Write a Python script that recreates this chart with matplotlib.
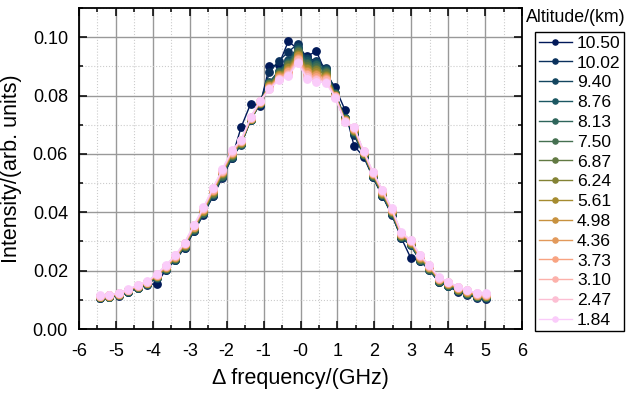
import matplotlib
matplotlib.use("Agg")
import matplotlib.pyplot as plt
from matplotlib.colors import LinearSegmentedColormap
from matplotlib.ticker import MultipleLocator
import numpy as np

plt.rcParams['font.family'] = ['Liberation Sans', 'DejaVu Sans']

# detuning grid (GHz)
freq = [-5.43, -5.18, -4.92, -4.67, -4.41, -4.16, -3.90, -3.65, -3.39, -3.14,
        -2.88, -2.63, -2.37, -2.12, -1.86, -1.61, -1.35, -1.10, -0.84, -0.59,
        -0.33, -0.08, 0.18, 0.43, 0.69, 0.94, 1.20, 1.45, 1.71, 1.96,
        2.22, 2.47, 2.73, 2.98, 3.24, 3.49, 3.75, 4.00, 4.26, 4.51,
        4.77, 5.02]

altitudes = ['10.50', '10.02', '9.40', '8.76', '8.13', '7.50', '6.87', '6.24',
             '5.61', '4.98', '4.36', '3.73', '3.10', '2.47', '1.84']

alt_1050 = [0.0106, 0.0108, 0.0114, 0.0127, 0.0140, 0.0152, 0.0155, 0.0202, 0.0236, 0.0278,
            0.0335, 0.0392, 0.0455, 0.0518, 0.0585, 0.0691, 0.0772, 0.0765, 0.0901, 0.0905,
            0.0986, 0.0960, 0.0935, 0.0952, 0.0875, 0.0828, 0.0752, 0.0628, 0.0590, 0.0520,
            0.0455, 0.0392, 0.0312, 0.0245, 0.0232, 0.0205, 0.0160, 0.0146, 0.0128, 0.0118,
            0.0107, 0.0104]
alt_1002 = [0.0107, 0.0109, 0.0115, 0.0128, 0.0141, 0.0153, 0.0175, 0.0203, 0.0237, 0.0279,
            0.0337, 0.0394, 0.0457, 0.0520, 0.0587, 0.0631, 0.0716, 0.0771, 0.0880, 0.0918,
            0.0950, 0.0976, 0.0929, 0.0919, 0.0896, 0.0809, 0.0724, 0.0665, 0.0596, 0.0521,
            0.0457, 0.0394, 0.0313, 0.0287, 0.0234, 0.0201, 0.0161, 0.0147, 0.0129, 0.0119,
            0.0108, 0.0105]
alt_940 = [0.0107, 0.0109, 0.0115, 0.0128, 0.0141, 0.0154, 0.0176, 0.0204, 0.0238, 0.0281,
           0.0338, 0.0396, 0.0459, 0.0522, 0.0589, 0.0633, 0.0716, 0.0772, 0.0846, 0.0885,
           0.0921, 0.0966, 0.0924, 0.0914, 0.0892, 0.0808, 0.0723, 0.0673, 0.0597, 0.0523,
           0.0458, 0.0395, 0.0315, 0.0288, 0.0235, 0.0203, 0.0162, 0.0148, 0.0130, 0.0120,
           0.0109, 0.0107]
alt_876 = [0.0108, 0.0110, 0.0116, 0.0129, 0.0142, 0.0154, 0.0177, 0.0205, 0.0240, 0.0282,
           0.0340, 0.0397, 0.0461, 0.0524, 0.0591, 0.0634, 0.0717, 0.0773, 0.0844, 0.0882,
           0.0916, 0.0961, 0.0918, 0.0908, 0.0888, 0.0806, 0.0722, 0.0675, 0.0598, 0.0524,
           0.0460, 0.0397, 0.0316, 0.0290, 0.0237, 0.0204, 0.0164, 0.0149, 0.0132, 0.0121,
           0.0110, 0.0108]
alt_813 = [0.0109, 0.0111, 0.0117, 0.0130, 0.0143, 0.0155, 0.0178, 0.0207, 0.0241, 0.0283,
           0.0342, 0.0399, 0.0463, 0.0526, 0.0593, 0.0635, 0.0718, 0.0773, 0.0842, 0.0879,
           0.0912, 0.0957, 0.0913, 0.0903, 0.0884, 0.0805, 0.0721, 0.0677, 0.0599, 0.0525,
           0.0461, 0.0398, 0.0317, 0.0291, 0.0238, 0.0205, 0.0165, 0.0151, 0.0133, 0.0123,
           0.0112, 0.0109]
alt_750 = [0.0109, 0.0111, 0.0117, 0.0130, 0.0144, 0.0156, 0.0179, 0.0208, 0.0242, 0.0284,
           0.0343, 0.0401, 0.0465, 0.0528, 0.0595, 0.0636, 0.0719, 0.0774, 0.0840, 0.0877,
           0.0907, 0.0952, 0.0907, 0.0897, 0.0880, 0.0804, 0.0720, 0.0678, 0.0600, 0.0527,
           0.0463, 0.0400, 0.0319, 0.0293, 0.0240, 0.0207, 0.0166, 0.0152, 0.0134, 0.0124,
           0.0113, 0.0110]
alt_687 = [0.0110, 0.0112, 0.0118, 0.0131, 0.0144, 0.0157, 0.0180, 0.0209, 0.0243, 0.0286,
           0.0345, 0.0403, 0.0467, 0.0530, 0.0597, 0.0638, 0.0719, 0.0775, 0.0838, 0.0874,
           0.0903, 0.0948, 0.0902, 0.0892, 0.0876, 0.0803, 0.0719, 0.0680, 0.0601, 0.0528,
           0.0464, 0.0401, 0.0320, 0.0294, 0.0241, 0.0208, 0.0167, 0.0153, 0.0135, 0.0125,
           0.0114, 0.0112]
alt_624 = [0.0111, 0.0113, 0.0119, 0.0132, 0.0145, 0.0158, 0.0181, 0.0210, 0.0245, 0.0287,
           0.0347, 0.0405, 0.0470, 0.0533, 0.0599, 0.0639, 0.0720, 0.0776, 0.0835, 0.0871,
           0.0898, 0.0943, 0.0896, 0.0886, 0.0872, 0.0801, 0.0717, 0.0682, 0.0603, 0.0530,
           0.0466, 0.0403, 0.0322, 0.0296, 0.0243, 0.0210, 0.0169, 0.0154, 0.0137, 0.0126,
           0.0115, 0.0113]
alt_561 = [0.0111, 0.0113, 0.0119, 0.0132, 0.0146, 0.0158, 0.0182, 0.0211, 0.0246, 0.0288,
           0.0348, 0.0406, 0.0472, 0.0535, 0.0600, 0.0640, 0.0721, 0.0777, 0.0833, 0.0869,
           0.0893, 0.0939, 0.0891, 0.0880, 0.0868, 0.0800, 0.0716, 0.0683, 0.0604, 0.0531,
           0.0467, 0.0404, 0.0323, 0.0297, 0.0244, 0.0211, 0.0170, 0.0155, 0.0138, 0.0127,
           0.0116, 0.0114]
alt_498 = [0.0112, 0.0114, 0.0120, 0.0133, 0.0146, 0.0159, 0.0183, 0.0212, 0.0247, 0.0290,
           0.0350, 0.0408, 0.0474, 0.0537, 0.0602, 0.0642, 0.0722, 0.0778, 0.0831, 0.0866,
           0.0889, 0.0934, 0.0885, 0.0875, 0.0864, 0.0799, 0.0715, 0.0685, 0.0605, 0.0532,
           0.0469, 0.0406, 0.0324, 0.0299, 0.0246, 0.0212, 0.0171, 0.0156, 0.0139, 0.0128,
           0.0117, 0.0116]
alt_436 = [0.0112, 0.0114, 0.0120, 0.0133, 0.0147, 0.0160, 0.0184, 0.0213, 0.0248, 0.0291,
           0.0351, 0.0410, 0.0476, 0.0539, 0.0604, 0.0643, 0.0722, 0.0779, 0.0829, 0.0864,
           0.0884, 0.0930, 0.0880, 0.0869, 0.0860, 0.0798, 0.0714, 0.0686, 0.0606, 0.0534,
           0.0470, 0.0407, 0.0326, 0.0300, 0.0247, 0.0214, 0.0172, 0.0157, 0.0140, 0.0129,
           0.0118, 0.0117]
alt_373 = [0.0113, 0.0115, 0.0121, 0.0134, 0.0148, 0.0161, 0.0185, 0.0215, 0.0249, 0.0292,
           0.0353, 0.0412, 0.0478, 0.0541, 0.0606, 0.0644, 0.0723, 0.0779, 0.0827, 0.0861,
           0.0880, 0.0925, 0.0874, 0.0864, 0.0856, 0.0797, 0.0713, 0.0688, 0.0607, 0.0535,
           0.0472, 0.0409, 0.0327, 0.0302, 0.0249, 0.0215, 0.0173, 0.0159, 0.0141, 0.0131,
           0.0120, 0.0118]
alt_310 = [0.0114, 0.0116, 0.0122, 0.0135, 0.0149, 0.0161, 0.0186, 0.0216, 0.0251, 0.0293,
           0.0355, 0.0413, 0.0480, 0.0543, 0.0608, 0.0645, 0.0724, 0.0780, 0.0825, 0.0858,
           0.0875, 0.0921, 0.0869, 0.0858, 0.0852, 0.0795, 0.0712, 0.0690, 0.0608, 0.0536,
           0.0473, 0.0410, 0.0328, 0.0303, 0.0250, 0.0216, 0.0175, 0.0160, 0.0143, 0.0132,
           0.0121, 0.0119]
alt_247 = [0.0114, 0.0116, 0.0122, 0.0135, 0.0150, 0.0162, 0.0187, 0.0217, 0.0252, 0.0295,
           0.0356, 0.0415, 0.0482, 0.0545, 0.0610, 0.0647, 0.0725, 0.0781, 0.0823, 0.0856,
           0.0871, 0.0916, 0.0863, 0.0853, 0.0848, 0.0794, 0.0711, 0.0691, 0.0609, 0.0538,
           0.0475, 0.0412, 0.0330, 0.0305, 0.0252, 0.0218, 0.0176, 0.0161, 0.0144, 0.0133,
           0.0122, 0.0120]
alt_184 = [0.0115, 0.0117, 0.0123, 0.0136, 0.0150, 0.0163, 0.0188, 0.0218, 0.0253, 0.0296,
           0.0358, 0.0417, 0.0484, 0.0547, 0.0612, 0.0648, 0.0725, 0.0782, 0.0821, 0.0853,
           0.0866, 0.0912, 0.0858, 0.0847, 0.0844, 0.0793, 0.0710, 0.0693, 0.0610, 0.0539,
           0.0476, 0.0413, 0.0331, 0.0306, 0.0253, 0.0219, 0.0177, 0.0162, 0.0145, 0.0134,
           0.0123, 0.0122]

series = [alt_1050, alt_1002, alt_940, alt_876, alt_813, alt_750, alt_687, alt_624,
          alt_561, alt_498, alt_436, alt_373, alt_310, alt_247, alt_184]

xtick_labels = ['-6', '-5', '-4', '-3', '-2', '-1', '-0', '1', '2', '3', '4', '5', '6']
ytick_labels = ['0.00', '0.02', '0.04', '0.06', '0.08', '0.10']

# batlow-like colour ramp
batlow = LinearSegmentedColormap.from_list(
    'batlow', ['#011959', '#0F3D5E', '#1C5A62', '#3C6D56', '#687B3E',
               '#9D892B', '#D29343', '#F8A17B', '#FDB7BC', '#FACCFA'])
colors = batlow(np.linspace(0, 1, len(series)))

fig = plt.figure(figsize=(6.29, 3.95), dpi=100)
ax = fig.add_axes([79/629, 66/395, 443/629, 321/395])

for name, y, c in zip(altitudes, series, colors):
    ax.plot(freq, y, '-o', color=c, lw=1.0, ms=5.3, mec=c, label=name)

ax.set_xlim(-6, 6)
ax.set_ylim(0, 0.11)
ax.set_xticks(range(-6, 7), xtick_labels)
ax.set_yticks([0, 0.02, 0.04, 0.06, 0.08, 0.10], ytick_labels)
ax.xaxis.set_minor_locator(MultipleLocator(0.5))
ax.yaxis.set_minor_locator(MultipleLocator(0.01))
ax.tick_params(which='both', direction='in', top=True, right=True, width=1.1, labelsize=13)
ax.tick_params(which='major', length=6)
ax.tick_params(which='minor', length=3)
ax.tick_params(axis='x', pad=10)
ax.tick_params(axis='y', pad=8)
ax.grid(which='major', color='#999999', lw=1.0)
ax.grid(which='minor', color='#cccccc', lw=0.8, ls=':')
ax.set_axisbelow(True)
for s in ax.spines.values():
    s.set_linewidth(1.3)

ax.set_xlabel('Δ frequency/(GHz)', fontsize=15.5, labelpad=6)
ax.set_ylabel('Intensity/(arb. units)', fontsize=15.5, labelpad=8)

leg = ax.legend(loc='upper left', bbox_to_anchor=(535/629, 1 - 32/395),
                bbox_transform=fig.transFigure, fancybox=False, edgecolor='black',
                framealpha=1, fontsize=12.6, handlelength=1.9, handletextpad=0.3,
                borderpad=0.2, labelspacing=0.26, borderaxespad=0, markerscale=0.7)
leg.get_frame().set_linewidth(1.0)
fig.text(526/629, 1 - 17/395, 'Altitude/(km)', fontsize=12.8, ha='left', va='center')

fig.savefig('out.png', dpi=100)
